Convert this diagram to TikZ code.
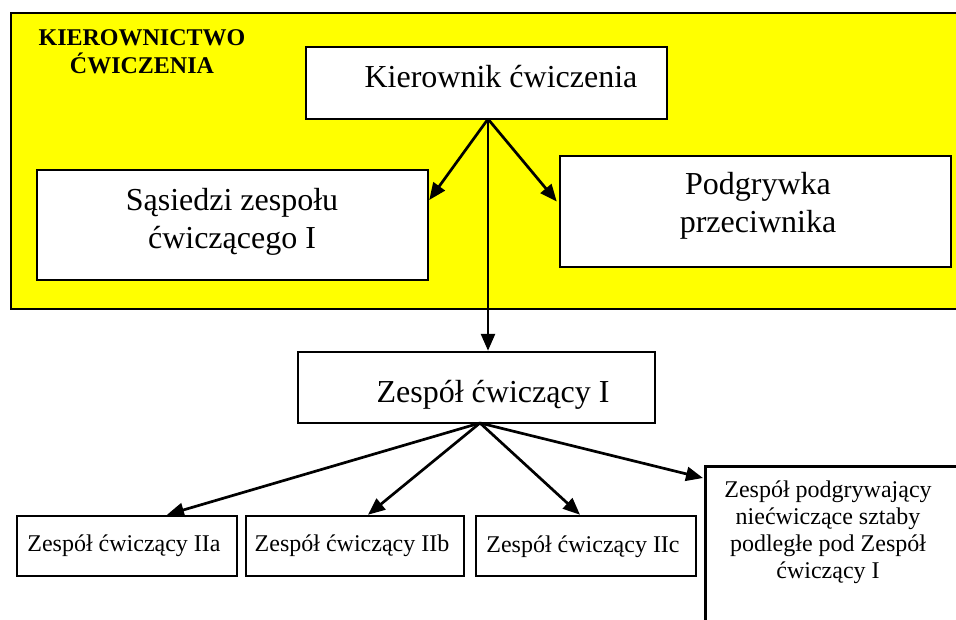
\documentclass[tikz,border=0pt]{standalone}
\usepackage{fontspec}
\setmainfont{Liberation Serif}
\usetikzlibrary{arrows.meta,calc}
\definecolor{zone}{RGB}{255,255,0}
\tikzset{
  unit/.style={draw=black, line width=2.5pt, fill=white, inner sep=0pt},
  big/.style={font=\fontsize{32}{38}\selectfont, align=center, inner sep=0pt, anchor=base},
  small/.style={font=\fontsize{24}{26.7}\selectfont, align=center, inner sep=0pt, anchor=base},
  head/.style={font=\fontsize{24}{28}\selectfont\bfseries, align=center, inner sep=0pt, anchor=base},
  link/.style={line width=2.7pt, -{Triangle[length=17pt,width=14pt]}},
}
\begin{document}
\begin{tikzpicture}[x=1pt,y=-1pt]
\useasboundingbox (0,0) rectangle (956,619);
\clip (0,0) rectangle (956,619);

% management zone
\node[draw=black, line width=2pt, fill=zone, inner sep=0pt,
      minimum width=1000pt, minimum height=296pt, anchor=north west] (zone) at (10,12) {};
% multi-line nodes are placed by the baseline of their last line
\node[head] (zonetitle) at (142,73) {KIEROWNICTWO\\ĆWICZENIA};

% boxes
\node[unit, minimum width=361pt, minimum height=72pt]  (kier) at (486.5,83) {};
\node[unit, minimum width=391pt, minimum height=110pt] (sas)  at (232.5,225) {};
\node[unit, minimum width=391pt, minimum height=111pt] (pod)  at (755.5,211.5) {};
\node[unit, minimum width=357pt, minimum height=71pt]  (zes)  at (476.5,387.5) {};
\node[unit, minimum width=220pt, minimum height=60pt]  (ta)   at (127,546) {};
\node[unit, minimum width=218pt, minimum height=60pt]  (tb)   at (355,546) {};
\node[unit, minimum width=220pt, minimum height=60pt]  (tc)   at (586,546) {};
\node[unit, minimum width=300pt, minimum height=200pt, anchor=north west] (td) at (704,465) {};

% texts
\node[big] (kiertxt) at (501,87) {Kierownik ćwiczenia};
\node[big] (sastxt) at (232,248) {Sąsiedzi zespołu\\ćwiczącego I};
\node[big] (podtxt) at (758,232) {Podgrywka\\przeciwnika};
\node[big] (zestxt) at (493,402) {Zespół ćwiczący I};
\node[small] (tatxt) at (124,551) {Zespół ćwiczący IIa};
\node[small] (tbtxt) at (352,551) {Zespół ćwiczący IIb};
\node[small] (tctxt) at (583,552) {Zespół ćwiczący IIc};
\node[small] (tdtxt) at (828,578) {Zespół podgrywający\\niećwiczące sztaby\\podległe pod Zespół\\ćwiczący I};

% connectors
\coordinate (hubtop) at (488,119);
\coordinate (hubmid) at (480,423);
\draw[link] (hubtop) -- ($(sas.east)+(0,-25)$);
\draw[link] (hubtop) -- ($(pod.west)+(-2,-10)$);
\draw[link] (hubtop) -- (hubtop |- zes.north);
\draw[link] (hubmid) -- ($(ta.north)+(40,0)$);
\draw[link] (hubmid) -- ($(tb.north)+(13,0)$);
\draw[link] (hubmid) -- ($(tc.north)+(-6,0)$);
\draw[link] (hubmid) -- ($(td.north west)+(-1,13)$);
\end{tikzpicture}
\end{document}
